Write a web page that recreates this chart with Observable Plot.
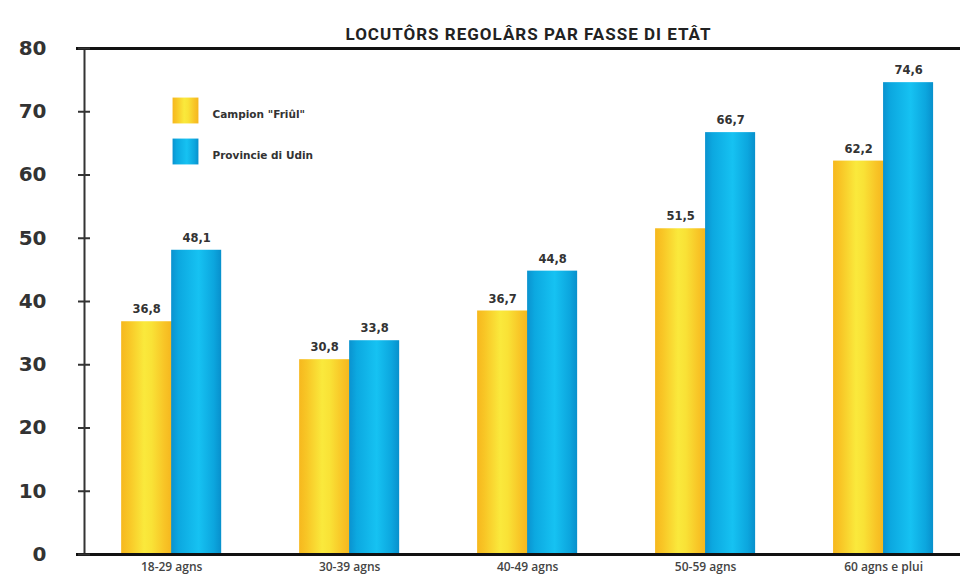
<!DOCTYPE html>
<html>
<head>
<meta charset="utf-8">
<script src="https://cdn.jsdelivr.net/npm/d3@7"></script>
<script src="https://cdn.jsdelivr.net/npm/@observablehq/plot@0.6"></script>
<style>
  html, body { margin: 0; padding: 0; background: #fff; }
  #chart { width: 960px; height: 578px; }
</style>
</head>
<body>
<div id="chart"></div>
<script>
// ---- data ----
const title = "LOCUTÔRS REGOLÂRS PAR FASSE DI ETÂT";
const ages = ["18-29 agns", "30-39 agns", "40-49 agns", "50-59 agns", "60 agns e plui"];
const seriesNames = ["Campion \"Friûl\"", "Provincie di Udin"];
// labels printed above the bars
const friulLabels = [36.8, 30.8, 36.7, 51.5, 62.2];
const udinLabels = [48.1, 33.8, 44.8, 66.7, 74.6];
// bar heights as drawn in the picture
const friulBars = [36.8, 30.8, 38.5, 51.5, 62.2];
const udinBars = [48.1, 33.8, 44.8, 66.7, 74.6];
const yTicks = [0, 10, 20, 30, 40, 50, 60, 70, 80];

const friul = ages.map((a, i) => ({age: a, value: friulBars[i], label: friulLabels[i]}));
const udin = ages.map((a, i) => ({age: a, value: udinBars[i], label: udinLabels[i]}));
const fmt = v => v.toFixed(1).replace(".", ",");

const ink = "#333";
const labelFont = "'DejaVu Sans', Verdana, sans-serif";

const plot = Plot.plot({
  width: 960,
  height: 578,
  marginTop: 48,
  marginBottom: 24,
  marginLeft: 84,
  marginRight: 0,
  style: {fontFamily: "Roboto, sans-serif", background: "#fff"},
  x: {domain: ages, paddingInner: 0.438, paddingOuter: 0.18, align: 0.58, round: false, label: null},
  y: {domain: [0, 80], label: null},
  marks: [
    // bars
    Plot.barY(friul, {x: "age", y: "value", fill: "url(#gYellow)", insetRight: 49, insetLeft: 0}),
    Plot.barY(udin, {x: "age", y: "value", fill: "url(#gBlue)", insetLeft: 50, insetRight: 0}),
    // value labels
    Plot.text(friul, {x: "age", y: "value", text: d => fmt(d.label), dx: -25, dy: -12,
      fill: ink, fontSize: 11.5, fontWeight: 700, fontFamily: labelFont}),
    Plot.text(udin, {x: "age", y: "value", text: d => fmt(d.label), dx: 25, dy: -12,
      fill: ink, fontSize: 11.5, fontWeight: 700, fontFamily: labelFont}),
    // frame lines
    Plot.frame({anchor: "left", stroke: ink, strokeWidth: 2}),
    Plot.ruleY([0, 80], {stroke: "#111", strokeWidth: 3, insetLeft: -8}),
    // y ticks crossing the axis
    Plot.axisY({ticks: yTicks, tickSize: 12, dx: 6, tickFormat: () => "", stroke: ink, strokeWidth: 2}),
    // y labels
    Plot.axisY({ticks: yTicks, tickSize: 0, tickPadding: 38, fontSize: 20, fontWeight: 700,
      fill: ink, fontFamily: labelFont}),
    // x labels
    Plot.axisX({tickSize: 0, tickPadding: 8, fontSize: 12, fontWeight: 600, fill: "#444",
      fontFamily: "'Open Sans', sans-serif"}),
    // title
    Plot.text([title], {frameAnchor: "top", dx: 6, dy: -21, fontSize: 17, fontWeight: 700,
      fill: "#222", fontFamily: "Roboto, sans-serif"}),
    // legend swatches
    Plot.dot([seriesNames[0]], {frameAnchor: "top-left", dx: 101, dy: 62, symbol: "square", r: 14.6,
      fill: "url(#gYellow)", stroke: null}),
    Plot.dot([seriesNames[1]], {frameAnchor: "top-left", dx: 101, dy: 103, symbol: "square", r: 14.6,
      fill: "url(#gBlue)", stroke: null}),
    Plot.text([seriesNames[0]], {frameAnchor: "top-left", dx: 128, dy: 62, text: d => d,
      textAnchor: "start", fontSize: 10.5, fontWeight: 700, fill: ink, fontFamily: labelFont}),
    Plot.text([seriesNames[1]], {frameAnchor: "top-left", dx: 128, dy: 103, text: d => d,
      textAnchor: "start", fontSize: 10.5, fontWeight: 700, fill: ink, fontFamily: labelFont})
  ]
});

// gradient definitions
const svg = d3.select(plot.tagName === "svg" ? plot : plot.querySelector("svg"));
const defs = svg.insert("defs", ":first-child");
function grad(id, stops) {
  const g = defs.append("linearGradient").attr("id", id)
    .attr("x1", "0").attr("x2", "1").attr("y1", "0").attr("y2", "0");
  stops.forEach(([o, c]) => g.append("stop").attr("offset", o).attr("stop-color", c));
}
grad("gYellow", [[0, "#f6b81e"], [0.15, "#f8c626"], [0.45, "#fae93c"], [0.6, "#f9e236"], [0.85, "#f8c426"], [1, "#f5b61e"]]);
grad("gBlue", [[0, "#0a92cf"], [0.15, "#0ca8e0"], [0.55, "#16c2f2"], [0.85, "#0ca6de"], [1, "#0890cc"]]);

// widen the title's letter spacing
svg.selectAll("text").filter(function() { return this.textContent === title; })
  .attr("letter-spacing", "1px");

document.getElementById("chart").appendChild(plot);
</script>
</body>
</html>
